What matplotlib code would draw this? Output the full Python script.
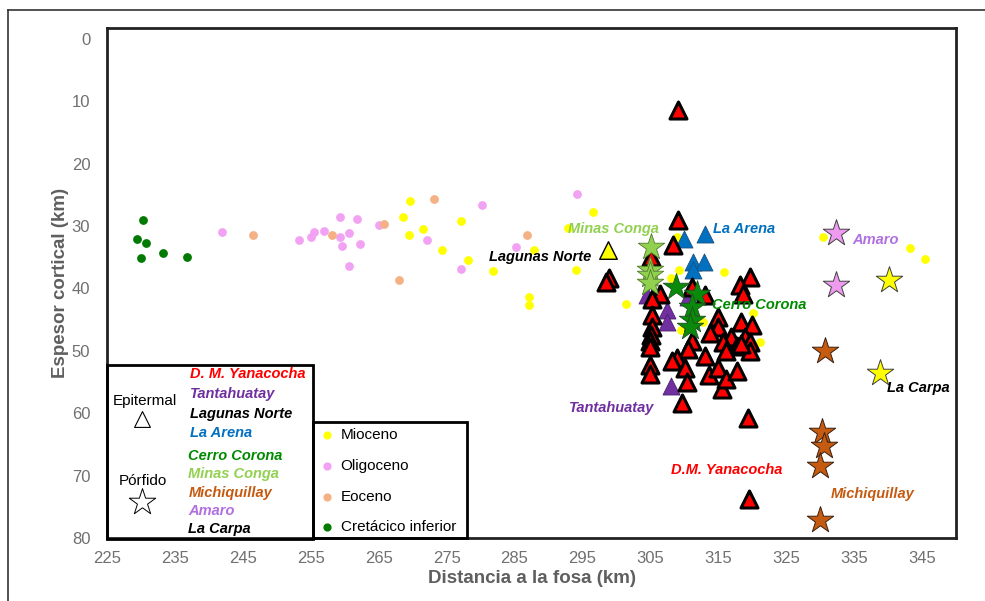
import matplotlib
matplotlib.use("Agg")
import matplotlib.pyplot as plt
from matplotlib.patches import Rectangle
from matplotlib.lines import Line2D

plt.rcParams['font.family'] = ['Liberation Sans', 'DejaVu Sans']

# background magmatism (distance to trench km, crustal thickness km)
mioceno_x = [269.6, 268.6, 269.5, 271.5, 274.3, 277.1, 278.2, 281.9, 287.8, 296.5,
             292.8, 294.0, 287.2, 287.2, 309.2, 308.1, 315.9, 330.4, 343.2, 345.4,
             301.4, 320.1, 312.7, 309.5, 321.2, 308.9]
mioceno_y = [25.9, 28.5, 31.5, 30.4, 33.9, 29.2, 35.4, 37.2, 33.8, 27.8,
             30.3, 37.1, 41.4, 42.7, 37.0, 38.3, 37.4, 31.8, 33.5, 35.3,
             42.5, 44.0, 45.4, 46.7, 48.6, 31.8]
oligoceno_x = [242.0, 253.2, 255.1, 255.5, 257.0, 259.3, 259.3, 259.6, 260.6, 260.6,
               261.8, 262.3, 265.0, 272.1, 277.1, 280.2, 285.2, 294.2]
oligoceno_y = [31.0, 32.3, 31.8, 30.9, 30.8, 28.6, 31.8, 33.2, 31.1, 36.4,
               28.8, 32.9, 29.9, 32.3, 36.9, 26.6, 33.3, 24.8]
eoceno_x = [246.5, 258.2, 265.8, 273.2, 268.0, 286.8]
eoceno_y = [31.4, 31.5, 29.7, 25.6, 38.6, 31.4]
cretacico_x = [230.35, 229.4, 230.7, 230.0, 233.2, 236.8]
cretacico_y = [29.1, 32.1, 32.7, 35.1, 34.3, 35.0]

# epithermal deposits
yanacocha_x = [309.0, 309.0, 308.4, 305.1, 298.9, 298.5, 319.7, 318.2, 318.7, 311.1,
               313.1, 306.4, 305.2, 305.2, 305.2, 305.1, 305.0, 305.0, 305.0, 305.0,
               315.0, 315.0, 313.8, 311.1, 318.3, 319.9, 319.0, 316.8, 315.7, 317.7,
               319.7, 319.7, 316.2, 310.6, 308.9, 308.2, 310.1, 310.4, 309.6, 313.1,
               313.6, 315.0, 315.5, 316.2, 317.7, 319.4, 319.5, 318.4]
yanacocha_y = [11.4, 29.1, 33.1, 34.9, 38.3, 39.0, 38.2, 39.5, 40.9, 39.8,
               41.1, 40.9, 41.7, 44.2, 46.2, 47.5, 48.4, 49.4, 52.2, 53.7,
               44.6, 46.2, 47.2, 48.4, 45.4, 45.9, 47.8, 47.8, 48.6, 49.2,
               48.6, 50.1, 50.0, 49.7, 51.1, 51.6, 52.7, 55.0, 58.4, 50.8,
               53.9, 52.8, 56.1, 54.5, 53.2, 60.8, 73.8, 48.9]
tantahuatay_x = [304.5, 307.4, 307.4, 310.6, 308.0]
tantahuatay_y = [41.1, 43.5, 45.4, 41.4, 55.7]
lagunas_x = [298.8]
lagunas_y = [33.8]
arena_x = [309.9, 313.1, 311.3, 312.9, 311.3]
arena_y = [32.1, 31.2, 35.8, 35.8, 37.0]

# porphyry deposits
corona_x = [308.7, 311.9, 311.1, 311.1, 310.8]
corona_y = [39.8, 40.9, 43.0, 45.1, 46.2]
conga_x = [305.1, 305.0, 305.0, 305.0]
conga_y = [33.3, 37.1, 37.9, 39.1]
michi_x = [330.7, 330.2, 330.5, 330.0, 329.9]
michi_y = [50.1, 63.0, 65.2, 68.4, 77.1]
amaro_x = [332.3, 332.3]
amaro_y = [31.1, 39.5]
carpa_x = [340.1, 338.8]
carpa_y = [38.7, 53.5]

RED = '#FF0000'
PURPLE = '#7030A0'
BLUE = '#0070C0'
DKGREEN = '#0A8A0A'
LTGREEN = '#92D050'
BROWN = '#C55A11'
VIOLET = '#B070E0'
GREY = '#5F5F5F'

fig = plt.figure(figsize=(9.85, 6.01), dpi=100)
ax = fig.add_axes([0.1086, 0.1048, 0.862, 0.8486])

# page frame
fig.add_artist(Line2D([0.008, 0.008], [0.0, 0.983], color='#333333', lw=1.2))
fig.add_artist(Line2D([0.008, 1.0], [0.983, 0.983], color='#333333', lw=1.2))

dot = 28
ax.scatter(mioceno_x, mioceno_y, s=dot, color='#FFFF00', zorder=2)
ax.scatter(oligoceno_x, oligoceno_y, s=dot, color='#F2A2F2', zorder=2)
ax.scatter(eoceno_x, eoceno_y, s=dot, color='#F4B183', zorder=2)
ax.scatter(cretacico_x, cretacico_y, s=dot, color='#007A00', zorder=2)

ax.scatter(arena_x, arena_y, marker='^', s=150, color=BLUE, edgecolors='#1F4E79', linewidths=0.6, zorder=3)
ax.scatter(tantahuatay_x, tantahuatay_y, marker='^', s=150, color=PURPLE, edgecolors='#4B2070', linewidths=0.6, zorder=3)
ax.scatter(yanacocha_x, yanacocha_y, marker='^', s=150, color=RED, edgecolors='black', linewidths=2.2, zorder=4)
ax.scatter(lagunas_x, lagunas_y, marker='^', s=160, color='#FFFF00', edgecolors='black', linewidths=1, zorder=4)

star = 400
ax.scatter(corona_x, corona_y, marker='*', s=star, color=DKGREEN, edgecolors='#1F4E1F', linewidths=0.6, zorder=5)
ax.scatter(conga_x, conga_y, marker='*', s=star, color=LTGREEN, edgecolors='#4F7A2A', linewidths=0.6, zorder=5)
ax.scatter(michi_x, michi_y, marker='*', s=star, color=BROWN, edgecolors='#3A2010', linewidths=0.7, zorder=5)
ax.scatter(amaro_x, amaro_y, marker='*', s=star, color='#EE9AEE', edgecolors='#404040', linewidths=0.7, zorder=5)
ax.scatter(carpa_x, carpa_y, marker='*', s=star, color='#FFFF00', edgecolors='#404040', linewidths=0.7, zorder=5)

# deposit names next to the clusters
lab = dict(fontsize=10.5, fontweight='bold', fontstyle='italic', va='center', zorder=6)
ax.text(296.3, 34.9, 'Lagunas Norte', color='black', ha='right', **lab)
ax.text(292.9, 30.4, 'Minas Conga', color=LTGREEN, ha='left', **lab)
ax.text(314.2, 30.4, 'La Arena', color=BLUE, ha='left', **lab)
ax.text(334.7, 32.3, 'Amaro', color=VIOLET, ha='left', **lab)
ax.text(314.1, 42.7, 'Cerro Corona', color='#008A00', ha='left', **lab)
ax.text(293.0, 59.1, 'Tantahuatay', color=PURPLE, ha='left', **lab)
ax.text(308.1, 69.1, 'D.M. Yanacocha', color=RED, ha='left', **lab)
ax.text(331.5, 72.9, 'Michiquillay', color=BROWN, ha='left', **lab)
ax.text(339.9, 55.9, 'La Carpa', color='black', ha='left', **lab)

# deposit-type key
ax.add_patch(Rectangle((225, 52.2), 30.3, 28, fill=False, edgecolor='black', lw=2, zorder=7, clip_on=False))
ax.text(230.6, 58.0, 'Epitermal', fontsize=11, ha='center', va='center', zorder=8)
ax.scatter([230.2], [60.9], marker='^', s=130, facecolors='white', edgecolors='black', linewidths=0.8, zorder=8)
ax.text(230.35, 70.8, 'Pórfido', fontsize=11, ha='center', va='center', zorder=8)
ax.scatter([230.2], [74.3], marker='*', s=400, facecolors='white', edgecolors='black', linewidths=0.7, zorder=8)
key_names = ['D. M. Yanacocha', 'Tantahuatay', 'Lagunas Norte', 'La Arena',
             'Cerro Corona', 'Minas Conga', 'Michiquillay', 'Amaro', 'La Carpa']
key_colors = [RED, PURPLE, 'black', BLUE, '#008A00', LTGREEN, BROWN, VIOLET, 'black']
key_rows = [53.7, 56.9, 60.1, 63.1, 66.8, 69.7, 72.8, 75.7, 78.6]
for i, (name, col, yy) in enumerate(zip(key_names, key_colors, key_rows)):
    xx = 237.2 if i < 4 else 237.0
    ax.text(xx, yy, name, color=col, ha='left', **dict(lab, zorder=8))

# age key
ax.add_patch(Rectangle((255.3, 61.4), 22.7, 18.6, fill=False, edgecolor='black', lw=2, zorder=7, clip_on=False))
age_names = ['Mioceno', 'Oligoceno', 'Eoceno', 'Cretácico inferior']
age_colors = ['#FFFF00', '#F2A2F2', '#F4B183', '#007A00']
age_rows = [63.5, 68.4, 73.4, 78.3]
for name, col, yy in zip(age_names, age_colors, age_rows):
    ax.scatter([257.4], [yy], s=24, color=col, zorder=8)
    ax.text(259.4, yy, name, fontsize=11, ha='left', va='center', zorder=8)

ax.set_xlim(225, 350)
ax.set_ylim(80, -1.75)
ax.set_xticks(range(225, 346, 10))
ax.set_yticks(range(0, 81, 10))
ax.tick_params(length=0, labelsize=12, labelcolor='#707070')
ax.tick_params(axis='y', pad=12)
ax.tick_params(axis='x', pad=9)
for sp in ax.spines.values():
    sp.set_linewidth(2)
    sp.set_color('#222222')

ax.set_xlabel('Distancia a la fosa (km)', fontsize=13.5, fontweight='bold', color=GREY, labelpad=3)
ax.set_ylabel('Espesor cortical (km)', fontsize=13.5, fontweight='bold', color=GREY, labelpad=2)

fig.savefig('out.png', dpi=100)
